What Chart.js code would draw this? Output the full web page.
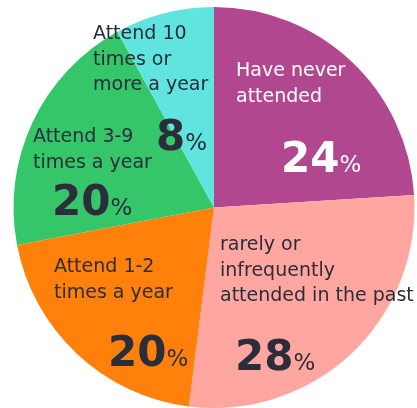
<!DOCTYPE html>
<html>
<head>
<meta charset="utf-8">
<script src="https://cdn.jsdelivr.net/npm/chart.js@4/dist/chart.umd.min.js"></script>
<style>
  html, body { margin: 0; padding: 0; background: #fff; }
  #wrap { width: 417px; height: 408px; position: relative; }
</style>
</head>
<body>
<div id="wrap"><canvas id="pie"></canvas></div>
<script>
// slices, clockwise from 12 o'clock
const categories = [
  ['Have never', 'attended'],
  ['rarely or', 'infrequently', 'attended in the past'],
  ['Attend 1-2', 'times a year'],
  ['Attend 3-9', 'times a year'],
  ['Attend 10', 'times or', 'more a year']
];
const shares = [24, 28, 20, 20, 8];
const sliceColors = ['#b0478f', '#ffa6a0', '#ff800a', '#36c66a', '#5fe4e0'];

// where each label block sits (canvas px): text left, first baseline, number left, number baseline
const labelPos = [
  { x: 236, y: 76,  nx: 281, ny: 172, color: '#ffffff' },
  { x: 220, y: 250, nx: 235, ny: 370, color: '#2b2d3a' },
  { x: 54,  y: 272, nx: 108, ny: 366, color: '#2b2d3a' },
  { x: 33,  y: 142, nx: 52,  ny: 215, color: '#2b2d3a' },
  { x: 93,  y: 39,  nx: 156, ny: 150, color: '#2b2d3a' }
];

const FONT = '"DejaVu Sans", sans-serif';

const sliceLabels = {
  id: 'sliceLabels',
  afterDatasetsDraw(chart) {
    const ctx = chart.ctx;
    ctx.save();
    ctx.textAlign = 'left';
    ctx.textBaseline = 'alphabetic';
    chart.data.datasets[0].data.forEach((v, i) => {
      const p = labelPos[i];
      ctx.fillStyle = p.color;
      ctx.font = '19px ' + FONT;
      categories[i].forEach((line, j) => ctx.fillText(line, p.x, p.y + j * 25.5));
      ctx.font = 'bold 42px ' + FONT;
      const num = String(v);
      ctx.fillText(num, p.nx, p.ny);
      const w = ctx.measureText(num).width;
      ctx.font = '23px ' + FONT;
      ctx.fillText('%', p.nx + w, p.ny);
    });
    ctx.restore();
  }
};

new Chart(document.getElementById('pie'), {
  type: 'pie',
  data: {
    labels: categories.map(c => c.join(' ')),
    datasets: [{ data: shares, backgroundColor: sliceColors, borderWidth: 0 }]
  },
  options: {
    responsive: true, maintainAspectRatio: false, animation: false,
    layout: { padding: { left: 13, right: 2, top: 7, bottom: 0 } },
    plugins: { legend: { display: false }, tooltip: { enabled: false } }
  },
  plugins: [sliceLabels]
});
</script>
</body>
</html>
